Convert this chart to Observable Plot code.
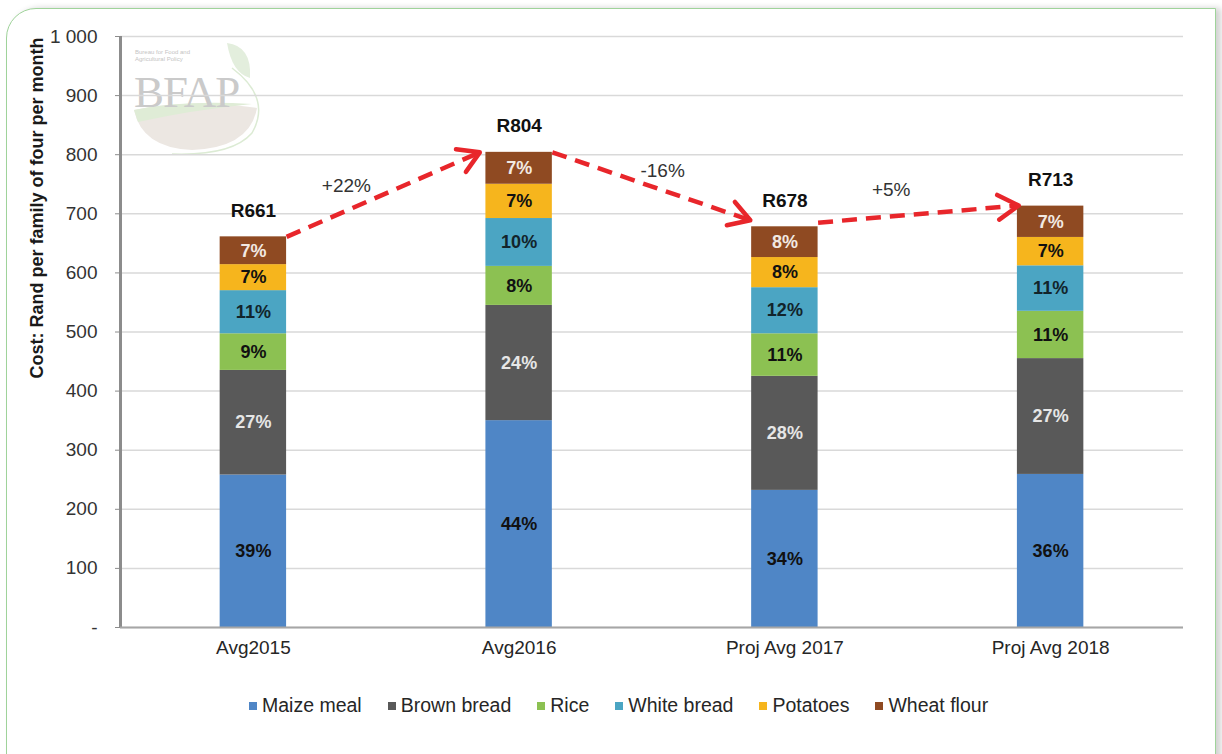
<!DOCTYPE html>
<html>
<head>
<meta charset="utf-8">
<script src="https://cdn.jsdelivr.net/npm/d3@7"></script>
<script src="https://cdn.jsdelivr.net/npm/@observablehq/plot@0.6"></script>
<style>
  html, body { margin: 0; padding: 0; background: #fff; }
  body { font-family: "Liberation Sans", Arial, sans-serif; }
  #wrap { position: relative; width: 1222px; height: 754px; overflow: hidden; background: #fff; }
  #frame { position: absolute; left: 6px; top: 8px; width: 1208px; height: 800px;
           border: 1.5px solid #9fd39a; border-top-left-radius: 30px;
           box-shadow: 5px 0 6px rgba(0,0,0,0.18); background: #fff; }
  #chart { position: absolute; left: 0; top: 0; }
  #ytitle { position: absolute; left: 37px; top: 208px; transform: translate(-50%, -50%) rotate(-90deg);
            white-space: nowrap; font-weight: bold; font-size: 18px; color: #1a1a1a; }
  #legend { position: absolute; left: 249px; top: 694px; display: flex; align-items: center;
            font-size: 19.5px; color: #262626; white-space: nowrap; }
  #legend .item { display: flex; align-items: center; margin-right: 26px; }
  #legend .sw { width: 8px; height: 8px; margin-right: 5px; }
  #logo { position: absolute; left: 132px; top: 38px; width: 140px; height: 120px; pointer-events: none; }
  #logo .small { position: absolute; left: 3px; top: 11px; font-size: 6px; line-height: 7px; color: #c4c4c4; }
  #logo .big { position: absolute; left: 2px; top: 28px; font-family: "Liberation Serif", "DejaVu Serif", serif;
               font-size: 45px; letter-spacing: -1px; color: #cacaca; }
</style>
</head>
<body>
<div id="wrap">
  <div id="frame"></div>
  <div id="logo">
    <svg width="140" height="120" style="position:absolute;left:0;top:0">
      <path d="M2,72 Q60,60 125,70 Q118,110 60,112 Q10,110 2,72 Z" fill="#ece7e2"/>
      <path d="M2,72 Q50,62 120,66 Q60,72 6,84 Z" fill="#dfecd6"/>
      <path d="M95,5 Q120,8 118,40 Q100,35 95,5 Z" fill="#e3eedd"/>
      <path d="M100,30 Q140,60 120,95 Q100,118 40,116" fill="none" stroke="#dcebd4" stroke-width="1.5"/>
    </svg>
    <div class="small">Bureau for Food and<br>Agricultural Policy</div>
    <div class="big">BFAP</div>
  </div>
  <div id="chart"></div>
  <div id="ytitle">Cost: Rand per family of four per month</div>
  <div id="legend"></div>
</div>
<script>
// ---------- data ----------
const categories = ["Avg2015", "Avg2016", "Proj Avg 2017", "Proj Avg 2018"];
const foods = ["Maize meal", "Brown bread", "Rice", "White bread", "Potatoes", "Wheat flour"];
const foodColors = ["#4f86c6", "#595959", "#8cc152", "#4ba5c3", "#f6b51d", "#8f4a22"];
const labelColors = ["#111111", "#e6e6e6", "#111111", "#12242b", "#111111", "#f2e9e2"];

const maizeMeal  = [258, 350, 232, 259];
const brownBread = [177, 195, 193, 196];
const rice       = [62, 66, 72, 80];
const whiteBread = [73, 81, 78, 77];
const potatoes   = [44, 58, 51, 48];
const wheatFlour = [47, 54, 52, 53];

const maizePct   = [39, 44, 34, 36];
const brownPct   = [27, 24, 28, 27];
const ricePct    = [9, 8, 11, 11];
const whitePct   = [11, 10, 12, 11];
const potatoPct  = [7, 7, 8, 7];
const wheatPct   = [7, 7, 8, 7];

const totals = [661, 804, 678, 713];

// change annotations (arrows between bar tops)
const changeLabels = ["+22%", "-16%", "+5%"];
const changeLabelX = [0.35, 1.54, 2.40];
const changeLabelY = [748, 772, 740];
const arrowStartY  = [661, 804, 685];
const arrowEndX    = [0.852, 1.87, 2.88];
const arrowEndY    = [804, 689, 714];

const yTicks = [0, 100, 200, 300, 400, 500, 600, 700, 800, 900, 1000];

// ---------- build table ----------
const seriesValues = [maizeMeal, brownBread, rice, whiteBread, potatoes, wheatFlour];
const seriesPct = [maizePct, brownPct, ricePct, whitePct, potatoPct, wheatPct];
const halfBar = 0.125;
const segments = [];
categories.forEach((c, i) => {
  let acc = 0;
  foods.forEach((f, k) => {
    const v = seriesValues[k][i];
    segments.push({i, cat: c, food: f, k, y1: acc, y2: acc + v, pct: seriesPct[k][i]});
    acc += v;
  });
});
const totalRows = totals.map((t, i) => ({i, t}));
const arrows = changeLabels.map((lab, j) => ({
  x1: j + halfBar, y1: arrowStartY[j], x2: arrowEndX[j], y2: arrowEndY[j],
  lx: changeLabelX[j], ly: changeLabelY[j], lab
}));

const base = {
  width: 1222, height: 670,
  marginTop: 36, marginBottom: 43, marginLeft: 120, marginRight: 39,
  x: {type: "linear", domain: [-0.5, 3.5]},
  y: {domain: [0, 1000]},
  style: {fontFamily: "'Liberation Sans', Arial, sans-serif", fontSize: "19px", background: "transparent", overflow: "visible"}
};

// probe to get pixel geometry of scales (for arrowheads)
const probe = Plot.plot({...base, marks: [Plot.ruleX([-0.5]), Plot.ruleY([0])]});
const sx = probe.scale("x"), sy = probe.scale("y");
const fx = d3.scaleLinear(sx.domain, sx.range);
const fy = d3.scaleLinear(sy.domain, sy.range);

const red = "#e8262b";
const headMarks = arrows.map(a => {
  const len = Math.hypot(fx(a.x2) - fx(a.x1), fy(a.y2) - fy(a.y1));
  return Plot.arrow([a], {x1: "x1", y1: "y1", x2: "x2", y2: "y2", stroke: red, strokeWidth: 4.5,
    headLength: 8, headAngle: 62, insetStart: len - 3});
});

const chart = Plot.plot({
  ...base,
  marks: [
    Plot.gridY({ticks: yTicks, stroke: "#d9d9d9", strokeOpacity: 1, strokeWidth: 1.5}),
    Plot.rectY(segments, {x1: d => d.i - halfBar, x2: d => d.i + halfBar, y1: "y1", y2: "y2",
      fill: d => foodColors[d.k]}),
    Plot.text(segments, {x: "i", y: d => (d.y1 + d.y2) / 2, text: d => d.pct + "%",
      fill: d => labelColors[d.k], fontWeight: "bold", fontSize: 18}),
    Plot.text(totalRows, {x: "i", y: "t", dy: -26, text: d => "R" + d.t, fontWeight: "bold", fontSize: 19, fill: "#111"}),
    Plot.ruleX([-0.5], {stroke: "#8c8c8c", strokeWidth: 3}),
    Plot.ruleY([0], {stroke: "#a6a6a6", strokeWidth: 2}),
    Plot.axisY({ticks: yTicks, tickSize: 5, tickPadding: 18, label: null, stroke: "#8c8c8c", fill: "#333",
      tickFormat: d => d === 0 ? "-" : d === 1000 ? "1 000" : String(d)}),
    Plot.axisX({ticks: [0, 1, 2, 3], tickSize: 0, tickPadding: 13, label: null, fill: "#262626",
      tickFormat: i => categories[i]}),
    Plot.link(arrows, {x1: "x1", y1: "y1", x2: "x2", y2: "y2", stroke: red, strokeWidth: 4.5,
      strokeDasharray: "15,9"}),
    ...headMarks,
    Plot.text(arrows, {x: "lx", y: "ly", text: "lab", fill: "#333", fontSize: 19})
  ]
});
document.getElementById("chart").appendChild(chart);

// legend
const legend = document.getElementById("legend");
foods.forEach((f, k) => {
  const item = document.createElement("div");
  item.className = "item";
  const sw = document.createElement("span");
  sw.className = "sw";
  sw.style.background = foodColors[k];
  const t = document.createElement("span");
  t.textContent = f;
  item.appendChild(sw); item.appendChild(t);
  legend.appendChild(item);
});
</script>
</body>
</html>
